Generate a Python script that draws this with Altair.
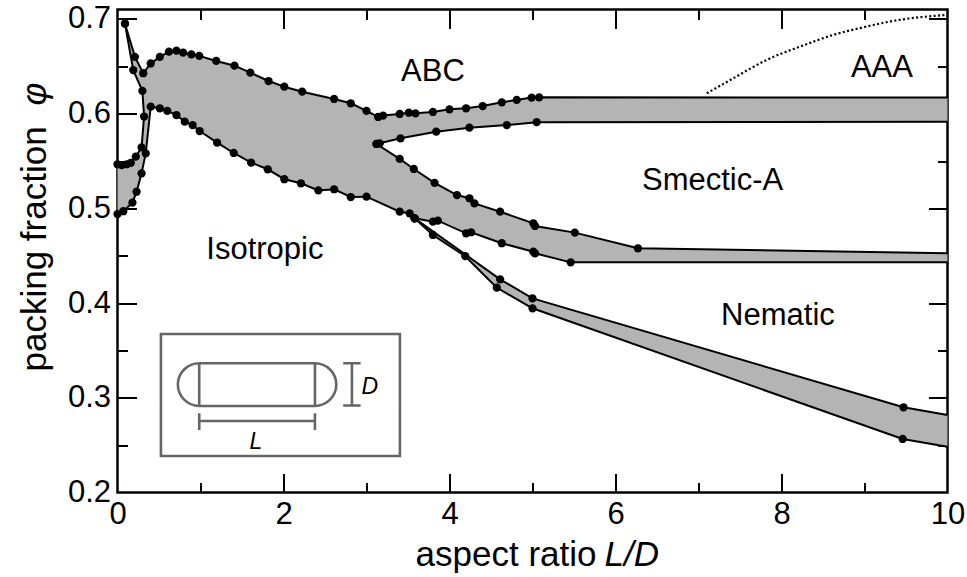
import altair as alt
import pandas as pd

# ---------------- data (L/D, packing fraction) ----------------
# solid (ABC) boundary: plastic-ABC, isotropic-ABC and smectic-ABC coexistence
abc_x = [0.09, 0.21, 0.31, 0.40, 0.51, 0.62, 0.71, 0.79, 0.89, 0.985, 1.19, 1.41, 1.60,
         1.82, 2.01, 2.225, 2.61, 2.81, 3.00, 3.14, 3.20, 3.40, 3.51, 3.59, 3.80, 4.00,
         4.20, 4.40, 4.63, 4.81, 4.99, 5.08, 10.0]
abc_phi = [0.695, 0.660, 0.6427, 0.653, 0.660, 0.6655, 0.6666, 0.6644, 0.6627, 0.661,
           0.6557, 0.6507, 0.6433, 0.6345, 0.6285, 0.6232, 0.6155, 0.611, 0.6029, 0.5965,
           0.5980, 0.5997, 0.601, 0.6004, 0.6018, 0.6046, 0.6057, 0.6081, 0.612, 0.6145,
           0.617, 0.6173, 0.617]
# plastic-solid boundary
plastic_x = [0.09, 0.19, 0.30, 0.32, 0.29, 0.22, 0.16, 0.11, 0.05, 0.0]
plastic_phi = [0.695, 0.646, 0.624, 0.597, 0.5645, 0.5546, 0.548, 0.5466, 0.5458, 0.5466]
# isotropic boundary
iso_x = [0.0, 0.07, 0.18, 0.23, 0.29, 0.34, 0.40, 0.51, 0.60, 0.71, 0.81, 0.905, 0.99,
         1.20, 1.40, 1.61, 1.81, 2.01, 2.21, 2.42, 2.61, 2.81, 3.00, 3.40, 3.52, 3.58,
         3.80, 4.19, 4.57, 5.00, 9.46, 10.0]
iso_phi = [0.494, 0.497, 0.506, 0.5176, 0.537, 0.558, 0.6074, 0.6057, 0.6029, 0.5986,
           0.5916, 0.588, 0.5817, 0.5694, 0.5585, 0.5483, 0.5413, 0.5308, 0.5265, 0.519,
           0.5202, 0.512, 0.5124, 0.4965, 0.4948, 0.4895, 0.4719, 0.4495, 0.4163, 0.3945,
           0.2565, 0.2484]
# nematic boundary of isotropic-nematic coexistence
nem_x = [3.58, 4.61, 5.00, 9.47, 10.0]
nem_phi = [0.4895, 0.4251, 0.405, 0.290, 0.2818]
# nematic / isotropic boundary of the smectic coexistence band
mid_x = [3.58, 3.80, 3.86, 4.20, 4.26, 4.63, 5.01, 5.03, 5.46, 10.0]
mid_phi = [0.4895, 0.486, 0.487, 0.4737, 0.4748, 0.4632, 0.4543, 0.4526, 0.443, 0.443]
# smectic-A low-density boundary
smlo_x = [3.12, 3.40, 3.57, 3.82, 4.09, 4.24, 4.30, 4.61, 5.01, 5.03, 5.51, 6.27, 10.0]
smlo_phi = [0.568, 0.5522, 0.5416, 0.527, 0.5141, 0.5107, 0.5053, 0.4965, 0.4843, 0.4814,
            0.4744, 0.4579, 0.4526]
# smectic-A high-density boundary
smhi_x = [3.12, 3.16, 3.41, 3.84, 4.24, 4.69, 5.05, 10.0]
smhi_phi = [0.568, 0.5687, 0.574, 0.581, 0.5852, 0.588, 0.591, 0.5916]
# ABC - AAA boundary (dotted)
aaa_x = [7.10, 7.42, 7.82, 8.22, 8.62, 9.02, 9.42, 9.98]
aaa_phi = [0.6215, 0.6374, 0.6567, 0.6707, 0.6831, 0.6919, 0.699, 0.7042]

# region labels
region_names = ["ABC", "AAA", "Smectic-A", "Isotropic", "Nematic"]
region_x = [3.80, 9.21, 7.17, 1.776, 7.957]
region_phi = [0.6346, 0.6391, 0.519, 0.4463, 0.3769]

# inset (spherocylinder sketch)
inset_x = [1.963]
inset_phi = [0.303]
inset_text = ["D", "L"]
inset_text_x = [3.04, 1.668]
inset_text_phi = [0.3117, 0.2536]

x_ticks = [0, 2, 4, 6, 8, 10]
y_ticks = [0.2, 0.3, 0.4, 0.5, 0.6, 0.7]
x_major = [2, 4, 6, 8]
x_minor = [1, 3, 5, 7, 9]
y_major = [0.3, 0.4, 0.5, 0.6, 0.7]
y_minor = [0.25, 0.35, 0.45, 0.55, 0.65]

# ---------------- tables ----------------
curves = {
    "abc": (abc_x, abc_phi), "plastic": (plastic_x, plastic_phi), "iso": (iso_x, iso_phi),
    "nem": (nem_x, nem_phi), "mid": (mid_x, mid_phi), "smlo": (smlo_x, smlo_phi),
    "smhi": (smhi_x, smhi_phi),
}
rows = []
for name, (xs_, ps_) in curves.items():
    for i, (a, b) in enumerate(zip(xs_, ps_)):
        rows.append({"curve": name, "i": i, "x": a, "phi": b})
lines_df = pd.DataFrame(rows)
dots_df = lines_df[lines_df["x"] < 10].reset_index(drop=True)


def pts(a, b):
    return list(zip(a, b))


poly = (pts(abc_x, abc_phi) + pts(smhi_x, smhi_phi)[::-1] + pts(smlo_x, smlo_phi)
        + pts(mid_x, mid_phi)[::-1] + pts(nem_x, nem_phi) + pts(iso_x, iso_phi)[::-1]
        + pts(plastic_x, plastic_phi)[::-1])
poly_df = pd.DataFrame([{"i": i, "x": a, "phi": b} for i, (a, b) in enumerate(poly)])
aaa_df = pd.DataFrame({"x": aaa_x, "phi": aaa_phi})
reg_df = pd.DataFrame({"t": region_names, "x": region_x, "phi": region_phi})
inset_df = pd.DataFrame({"x": inset_x, "phi": inset_phi})
inset_t_df = pd.DataFrame({"t": inset_text, "x": inset_text_x, "phi": inset_text_phi})

# ---------------- chart ----------------
FONT = "Liberation Sans"
W, H = 830, 483
xsc = alt.Scale(domain=[0, 10], nice=False, zero=False)
ysc = alt.Scale(domain=[0.2, 0.71], nice=False, zero=False)


def tick_axis(orient, values, length):
    return alt.Axis(orient=orient, values=values, labels=False, domain=False, grid=False,
                    ticks=True, tickSize=length, offset=-length, tickWidth=2,
                    tickColor="black", title=None)


lab_x = alt.Axis(orient="bottom", values=x_ticks, format="d", ticks=False, tickSize=0,
                 domain=False, grid=False, labelFont=FONT, labelFontSize=31,
                 labelPadding=7, labelColor="black", labelFlush=False,
                 labelOverlap=False, title=None)
lab_y = alt.Axis(orient="left", values=y_ticks, format=".1f", ticks=False, tickSize=0,
                 domain=False, grid=False, labelFont=FONT, labelFontSize=31,
                 labelPadding=7, labelColor="black", labelOverlap=False, title=None)

polygon = alt.Chart(poly_df).mark_line(fill="#b4b4b4", strokeOpacity=0).encode(
    x=alt.X("x:Q", scale=xsc, axis=lab_x),
    y=alt.Y("phi:Q", scale=ysc, axis=lab_y),
    order="i:Q",
)
lines = alt.Chart(lines_df).mark_line(color="black", strokeWidth=2).encode(
    x=alt.X("x:Q", scale=xsc, axis=tick_axis("bottom", x_major, 19)),
    y=alt.Y("phi:Q", scale=ysc, axis=tick_axis("left", y_major, 19)),
    detail="curve:N",
    order="i:Q",
)
dots = alt.Chart(dots_df).mark_circle(color="black", size=68, opacity=1).encode(
    x=alt.X("x:Q", scale=xsc, axis=tick_axis("bottom", x_minor, 10)),
    y=alt.Y("phi:Q", scale=ysc, axis=tick_axis("left", y_minor, 10)),
)
aaa = alt.Chart(aaa_df).mark_line(color="black", strokeWidth=2.2, strokeDash=[2, 2.4],
                                  interpolate="monotone").encode(
    x=alt.X("x:Q", scale=xsc, axis=tick_axis("top", x_major, 19)),
    y=alt.Y("phi:Q", scale=ysc, axis=tick_axis("right", y_major, 19)),
)
labels = alt.Chart(reg_df).mark_text(font=FONT, fontSize=31, color="black",
                                     baseline="alphabetic", align="center").encode(
    x=alt.X("x:Q", scale=xsc, axis=tick_axis("top", x_minor, 10)),
    y=alt.Y("phi:Q", scale=ysc, axis=tick_axis("right", y_minor, 10)),
    text="t:N",
)
capsule_path = ("M-1.195,-0.61H1.195V0.61H-1.195Z "
                "M-0.812,-0.317H0.345A0.2135,0.2135 0 0 1 0.345,0.11H-0.812"
                "A0.2135,0.2135 0 0 1 -0.812,-0.317Z "
                "M-0.812,-0.317V0.11M0.345,-0.317V0.11 "
                "M0.628,-0.317H0.802M0.715,-0.317V0.105M0.628,0.105H0.802 "
                "M-0.812,0.26H0.345M-0.812,0.183V0.35M0.345,0.183V0.35")
inset = alt.Chart(inset_df).mark_point(shape=capsule_path, size=40000, filled=False,
                                       stroke="#666666", strokeWidth=2.6, opacity=1).encode(
    x=alt.X("x:Q", scale=xsc, axis=None),
    y=alt.Y("phi:Q", scale=ysc, axis=None),
)
inset_txt = alt.Chart(inset_t_df).mark_text(font=FONT, fontSize=23, fontStyle="italic",
                                            color="black", baseline="middle").encode(
    x=alt.X("x:Q", scale=xsc, axis=None),
    y=alt.Y("phi:Q", scale=ysc, axis=None),
    text="t:N",
)

title_df = pd.DataFrame({"a": [0]})
xt1 = alt.Chart(title_df).mark_text(text="aspect ratio", font=FONT, fontSize=35,
                                    align="right", baseline="alphabetic").encode(
    x=alt.value(479), y=alt.value(556))
xt2 = alt.Chart(title_df).mark_text(text="L/D", font=FONT, fontSize=35, fontStyle="italic",
                                    align="left", baseline="alphabetic").encode(
    x=alt.value(487), y=alt.value(556))
yt1 = alt.Chart(title_df).mark_text(text="packing fraction", font=FONT, fontSize=35,
                                    angle=270, align="left", baseline="alphabetic").encode(
    x=alt.value(-72), y=alt.value(362))
yt2 = alt.Chart(title_df).mark_text(text="φ", font=FONT, fontSize=35, fontStyle="italic",
                                    angle=270, align="left", baseline="alphabetic").encode(
    x=alt.value(-72), y=alt.value(96))

chart = alt.layer(polygon, lines, dots, aaa, labels, inset, inset_txt,
                  xt1, xt2, yt1, yt2).resolve_axis(
    x="independent", y="independent"
).properties(
    width=W, height=H,
    autosize=alt.AutoSizeParams(type="none"),
    padding={"left": 117.5, "top": 9.5, "right": 19, "bottom": 84},
    background="white",
).configure_view(stroke="black", strokeWidth=2.5)

chart.save("out.html", embed_options={"renderer": "svg", "actions": False})
